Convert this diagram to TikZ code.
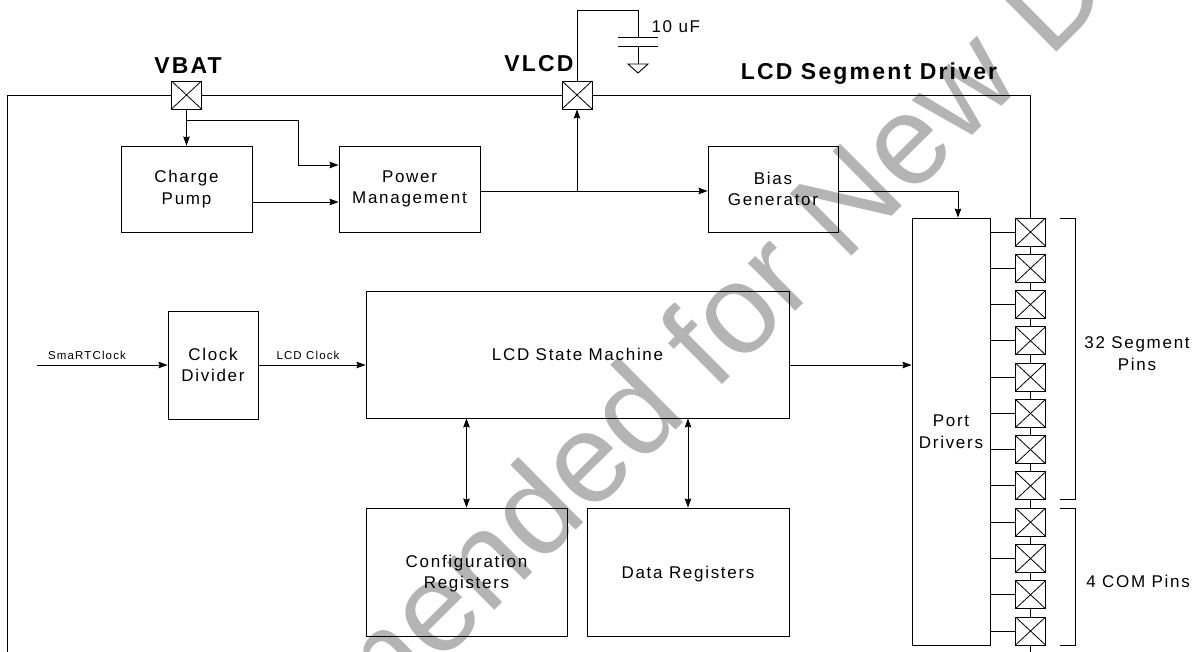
\documentclass[tikz,border=0pt]{standalone}
\usepackage{fontspec}
\setmainfont{Liberation Sans}[LetterSpace=10]
\newfontfamily\markfont{Liberation Sans}
\newfontfamily\headfont{Liberation Sans Bold}[LetterSpace=9.5]
\usetikzlibrary{arrows.meta, positioning, calc}
\definecolor{MarkGray}{HTML}{B4B4B4}
\tikzset{
    % Box styles - all sharp corners
    blockbox/.style={
        rectangle,
        draw=black,
        fill=none,
        line width=0.9pt,
        inner sep=0pt,
        align=center,
        font=\fontsize{17}{21.5}\selectfont
    },
    pinbox/.style={
        rectangle,
        draw=black,
        fill=white,
        line width=0.9pt,
        minimum width=30pt,
        minimum height=28pt,
        path picture={
            \draw[line width=0.8pt] (path picture bounding box.north west) -- (path picture bounding box.south east);
            \draw[line width=0.8pt] (path picture bounding box.north east) -- (path picture bounding box.south west);
        }
    },
    pinname/.style={font=\fontsize{23}{26}\selectfont\headfont},
    siglabel/.style={font=\fontsize{11.5}{14}\selectfont},
    sidelabel/.style={align=center, font=\fontsize{17}{21.5}\selectfont},
    % Arrow styles - straight lines only
    wire/.style={
        line width=0.9pt,
        draw=black
    },
    arrow/.style={
        -{Stealth[length=9pt,width=6.5pt,inset=1pt]},
        line width=0.9pt,
        draw=black
    },
    bothways/.style={
        {Stealth[length=9pt,width=6.5pt,inset=1pt]}-{Stealth[length=9pt,width=6.5pt,inset=1pt]},
        line width=0.9pt,
        draw=black
    }
}

\begin{document}
\begin{tikzpicture}[x=1pt, y=-1pt]
    \useasboundingbox (0,0) rectangle (1198,652);
    \clip (0,0) rectangle (1198,652);

    \node[font=\fontsize{127}{130}\selectfont\markfont, text=MarkGray, rotate=44.8, anchor=base, inner sep=0pt] (mark) at (1050,59) {\llap{Recommended for New }\rlap{Designs}};

    % Top rail pins
    \node[pinbox] (vbat) at (186.5,95) {};
    \node[pinbox] (vlcd) at (577,95) {};
    \node[pinname] (vbatname) at (188,66) {VBAT};
    \node[pinname] (vlcdname) at (539,63.5) {VLCD};
    \node[pinname] (title) at (869,74) {LCD Segment Driver};

    % Analog blocks
    \node[blockbox, minimum width=131pt, minimum height=86pt] (pump) at (186.5,189) {Charge\\Pump};
    \node[blockbox, minimum width=141pt, minimum height=86pt] (power) at (409.5,189) {Power\\Management};
    \node[blockbox, minimum width=130pt, minimum height=86pt] (bias) at (773,189) {Bias\\Generator};

    % Digital blocks
    \node[blockbox, minimum width=90pt, minimum height=108pt] (divider) at (213,365) {Clock\\Divider};
    \node[blockbox, minimum width=423pt, minimum height=127pt] (state) at (577.5,354.5) {LCD State Machine};
    \node[blockbox, minimum width=201pt, minimum height=128pt, text depth=0pt] (config) at (466.5,572) {Configuration\\Registers};
    \node[blockbox, minimum width=202pt, minimum height=128pt, text depth=0pt] (data) at (688,572) {Data Registers};
    \node[blockbox, minimum width=78pt, minimum height=427pt] (port) at (951,431.5) {Port\\Drivers};

    % Output pins
    \node[pinbox] (p1) at (1030.5,232) {};
    \node[pinbox] (p2) at (1030.5,268.3) {};
    \node[pinbox] (p3) at (1030.5,304.5) {};
    \node[pinbox] (p4) at (1030.5,340.8) {};
    \node[pinbox] (p5) at (1030.5,377.1) {};
    \node[pinbox] (p6) at (1030.5,413.4) {};
    \node[pinbox] (p7) at (1030.5,449.6) {};
    \node[pinbox] (p8) at (1030.5,485.9) {};
    \node[pinbox] (p9) at (1030.5,522.2) {};
    \node[pinbox] (p10) at (1030.5,558.5) {};
    \node[pinbox] (p11) at (1030.5,594.7) {};
    \node[pinbox] (p12) at (1030.5,631) {};

    \draw[wire] (port.east |- p1) -- (p1);
    \draw[wire] (port.east |- p2) -- (p2);
    \draw[wire] (port.east |- p3) -- (p3);
    \draw[wire] (port.east |- p4) -- (p4);
    \draw[wire] (port.east |- p5) -- (p5);
    \draw[wire] (port.east |- p6) -- (p6);
    \draw[wire] (port.east |- p7) -- (p7);
    \draw[wire] (port.east |- p8) -- (p8);
    \draw[wire] (port.east |- p9) -- (p9);
    \draw[wire] (port.east |- p10) -- (p10);
    \draw[wire] (port.east |- p11) -- (p11);
    \draw[wire] (port.east |- p12) -- (p12);

    \draw[wire] (p1) -- (p2);
    \draw[wire] (p2) -- (p3);
    \draw[wire] (p3) -- (p4);
    \draw[wire] (p4) -- (p5);
    \draw[wire] (p5) -- (p6);
    \draw[wire] (p6) -- (p7);
    \draw[wire] (p7) -- (p8);
    \draw[wire] (p8) -- (p9);
    \draw[wire] (p9) -- (p10);
    \draw[wire] (p10) -- (p11);
    \draw[wire] (p11) -- (p12);

    % Free ends and junctions
    \coordinate (railleft) at (7,652);
    \coordinate (railright) at (1030.5,95);
    \coordinate (pinsend) at (1030.5,652);
    \coordinate (branch) at (186.5,120);
    \coordinate (branchtop) at (298.5,120);
    \coordinate (tap) at (577,191);
    \coordinate (clockin) at (37,365);

    % Supply rail
    \draw[wire] (railleft) |- (vbat.west);
    \draw[wire] (vbat.east) -- (vlcd.west);
    \draw[wire] (vlcd.east) -- (railright) -- (p1.north);
    \draw[wire] (p12.south) -- (pinsend);

    % Capacitor and ground
    \coordinate (captop) at (638,10);
    \coordinate (plateA) at (638,37);
    \coordinate (plateB) at (638,46);
    \coordinate (gnd) at (638,64);
    \draw[wire] (vlcd.north) |- (captop) -- (plateA);
    \draw[wire] ([xshift=-20pt]plateA) -- ([xshift=20pt]plateA);
    \draw[wire] ([xshift=-20pt]plateB) -- ([xshift=20pt]plateB);
    \draw[wire] (plateB) -- (gnd);
    \draw[wire] ([xshift=-10pt]gnd) -- ([xshift=10pt]gnd) -- ([yshift=-9pt]gnd) -- cycle;
    \node[anchor=west, font=\fontsize{17}{21.5}\selectfont] (capname) at (648,27) {10 uF};

    % Connectors
    \draw[arrow] (vbat.south) -- (pump.north);
    \draw[arrow] (branch) -- (branchtop) |- ([yshift=24pt]power.west);
    \draw[arrow] ([yshift=-13pt]pump.east) -- ([yshift=-13pt]power.west);
    \draw[arrow] (tap -| power.east) -- (tap -| bias.west);
    \draw[arrow] (tap) -- (vlcd.south);
    \draw[arrow] (tap -| bias.east) -| ([xshift=7pt]port.north);
    \draw[arrow] (clockin) -- (divider.west);
    \draw[arrow] (divider.east) -- (state.west |- divider.east);
    \draw[arrow] (state.east |- divider.east) -- (port.west |- divider.east);
    \draw[bothways] (state.south -| config.north) -- (config.north);
    \draw[bothways] (state.south -| data.north) -- (data.north);

    \node[siglabel] (smart) at (87,355) {SmaRTClock};
    \node[siglabel] (lcdclock) at (308,355) {LCD Clock};

    % Pin group brackets
    \coordinate (segtop) at (1060,218);
    \coordinate (segbot) at (1060,499.5);
    \coordinate (comtop) at (1060,508.7);
    \coordinate (combot) at (1060,645);
    \draw[wire] (segtop) -- ++(15,0) |- (segbot);
    \draw[wire] (comtop) -- ++(15,0) |- (combot);
    \node[sidelabel] (segname) at (1137,353.5) {32 Segment\\Pins};
    \node[sidelabel] (comname) at (1138,581) {4 COM Pins};
\end{tikzpicture}
\end{document}
